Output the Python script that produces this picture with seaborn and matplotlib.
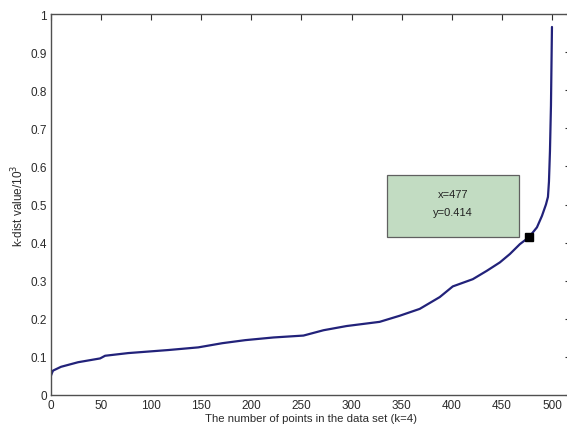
import matplotlib
matplotlib.use("Agg")
import matplotlib.pyplot as plt
import seaborn as sns
import pandas as pd

# Data (sorted k-dist curve)
point_index = [0, 1, 2, 10, 27, 49, 54, 77, 117, 147, 171, 194, 222, 252, 272, 295,
               328, 348, 368, 388, 401, 421, 435, 448, 458, 468, 477, 485, 490, 494,
               496, 497, 498, 499, 500]
kdist = [0.051, 0.058, 0.064, 0.074, 0.086, 0.096, 0.103, 0.110, 0.118, 0.125, 0.136,
         0.144, 0.151, 0.156, 0.170, 0.181, 0.192, 0.208, 0.226, 0.257, 0.285, 0.304,
         0.326, 0.348, 0.370, 0.396, 0.414, 0.44, 0.47, 0.50, 0.52, 0.56, 0.64, 0.76, 0.966]
marker_x = [477]
marker_y = [0.414]
x_ticks = [0, 50, 100, 150, 200, 250, 300, 350, 400, 450, 500]
y_ticks = [0, 0.1, 0.2, 0.3, 0.4, 0.5, 0.6, 0.7, 0.8, 0.9, 1]
y_tick_labels = ["0", "0.1", "0.2", "0.3", "0.4", "0.5", "0.6", "0.7", "0.8", "0.9", "1"]
annot_lines = ["x=477", "y=0.414"]

sns.set_style("white")
plt.rcParams['font.family'] = ['Liberation Sans', 'DejaVu Sans']

df = pd.DataFrame({"idx": point_index, "kdist": kdist})

fig = plt.figure(figsize=(5.67, 4.27), dpi=100)
ax = fig.add_axes([51/567, 31/427, 520/567, 381/427])

sns.lineplot(data=df, x="idx", y="kdist", ax=ax, color="#22227a", linewidth=1.6,
             estimator=None)
ax.plot(marker_x, marker_y, marker="s", color="black", markersize=5.5, linestyle="none", zorder=5)

ax.set_xlim(0, 519)
ax.set_ylim(0, 1)
ax.set_xticks(x_ticks)
ax.set_xticklabels([str(t) for t in x_ticks], fontsize=8.5)
ax.set_yticks(y_ticks)
ax.set_yticklabels(y_tick_labels, fontsize=8.5)
ax.tick_params(direction="in", length=4, width=0.8, color="#303030", top=True, right=True,
               labelcolor="#2a2a2a", pad=3)
for s in ax.spines.values():
    s.set_color("#505050")
    s.set_linewidth(1.0)
    s.set_visible(True)

ax.set_xlabel("The number of points in the data set (k=4)", fontsize=8.2, color="#2a2a2a", labelpad=1)
ax.set_ylabel("k-dist value/10$^3$", fontsize=8.5, color="#2a2a2a", labelpad=3)

# annotation box
ax.add_patch(plt.Rectangle((335.5, 0.415), 131.5, 0.162, facecolor="#c2dcc2",
                           edgecolor="#606060", linewidth=0.9, zorder=4))
ax.text(401, 0.527, annot_lines[0], ha="center", va="center", fontsize=8, color="#222222", zorder=6)
ax.text(401, 0.480, annot_lines[1], ha="center", va="center", fontsize=8, color="#222222", zorder=6)

fig.savefig("out.png", dpi=100)
